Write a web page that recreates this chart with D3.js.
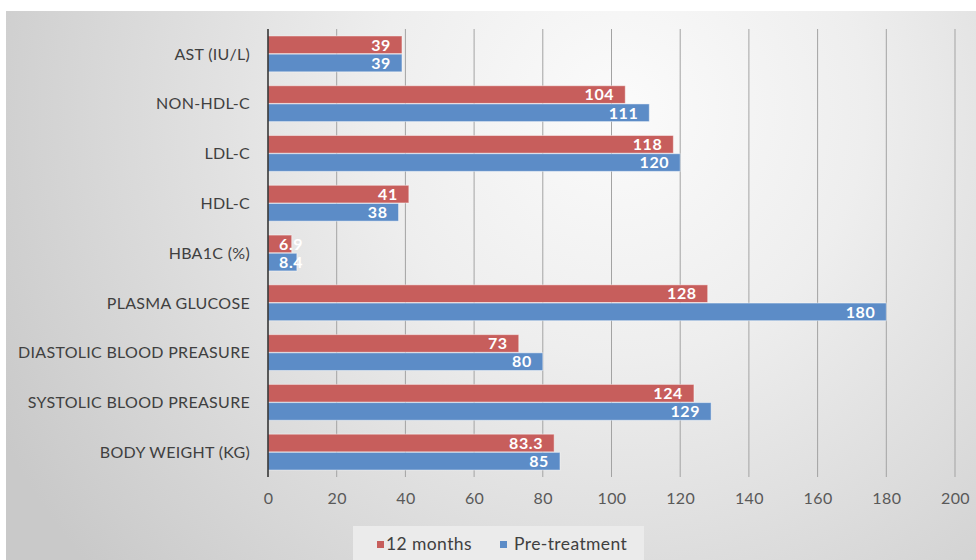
<!DOCTYPE html>
<html>
<head>
<meta charset="utf-8">
<script src="https://cdn.jsdelivr.net/npm/d3@7/dist/d3.min.js"></script>
<style>
  html, body { margin: 0; padding: 0; background: #ffffff; }
  svg { display: block; }
</style>
</head>
<body>
<svg id="chart" width="976" height="560"></svg>
<script>
// Clinical measures, listed top to bottom
const categories = [
  "AST (IU/L)",
  "NON-HDL-C",
  "LDL-C",
  "HDL-C",
  "HBA1C (%)",
  "PLASMA GLUCOSE",
  "DIASTOLIC BLOOD PREASURE",
  "SYSTOLIC BLOOD PREASURE",
  "BODY WEIGHT (KG)"
];
const seriesNames = ["12 months", "Pre-treatment"];
const twelveMonths = [39, 104, 118, 41, 6.9, 128, 73, 124, 83.3];
const preTreatment = [39, 111, 120, 38, 8.4, 180, 80, 129, 85];
const valueLabels12 = ["39", "104", "118", "41", "6.9", "128", "73", "124", "83.3"];
const valueLabelsPre = ["39", "111", "120", "38", "8.4", "180", "80", "129", "85"];
const xTicks = [0, 20, 40, 60, 80, 100, 120, 140, 160, 180, 200];

const colors = { "12 months": "#c75e5c", "Pre-treatment": "#5c8cc7" };
const FONT = "Lato, 'Open Sans', sans-serif";

const svg = d3.select("#chart");
const W = 976, H = 560;

// Soft radial background panel
const defs = svg.append("defs");
const grad = defs.append("radialGradient")
  .attr("id", "bg")
  .attr("gradientUnits", "userSpaceOnUse")
  .attr("cx", 620).attr("cy", 110).attr("r", 700);
grad.append("stop").attr("offset", "0%").attr("stop-color", "#fbfbfb");
grad.append("stop").attr("offset", "35%").attr("stop-color", "#eeeeee");
grad.append("stop").attr("offset", "100%").attr("stop-color", "#c9c9c9");

svg.append("rect").attr("x", 0).attr("y", 0).attr("width", W).attr("height", H).attr("fill", "#ffffff");
svg.append("rect").attr("x", 6).attr("y", 11).attr("width", W - 6).attr("height", H - 11).attr("fill", "url(#bg)");

const margin = { left: 268, right: 21, top: 29, bottom: 83 };
const x = d3.scaleLinear().domain([0, 200]).range([margin.left, W - margin.right]);
const y = d3.scaleBand().domain(categories).range([margin.top, H - margin.bottom])
  .paddingInner(0.28).paddingOuter(0.14);
const ySub = d3.scaleBand().domain(seriesNames).range([0, y.bandwidth()]).paddingInner(0.03);

// Vertical gridlines
svg.append("g")
  .selectAll("line")
  .data(xTicks.filter(t => t > 0))
  .join("line")
  .attr("x1", d => x(d)).attr("x2", d => x(d))
  .attr("y1", margin.top).attr("y2", H - margin.bottom)
  .attr("stroke", "#a3a3a3").attr("stroke-width", 1);

// Tick labels along the bottom
const xAxis = d3.axisBottom(x).tickValues(xTicks).tickSize(0).tickPadding(16);
const gx = svg.append("g")
  .attr("transform", `translate(0,${H - margin.bottom})`)
  .call(xAxis);
gx.select(".domain").remove();
gx.selectAll("text")
  .attr("font-family", FONT).attr("font-size", 16).attr("letter-spacing", "0.4px")
  .attr("fill", "#595959");

// Bars
const rows = categories.map((c, i) => ({
  cat: c,
  vals: [
    { s: "12 months", v: twelveMonths[i], label: valueLabels12[i] },
    { s: "Pre-treatment", v: preTreatment[i], label: valueLabelsPre[i] }
  ]
}));

const groups = svg.append("g").selectAll("g")
  .data(rows).join("g")
  .attr("transform", d => `translate(0,${y(d.cat)})`);

groups.selectAll("rect")
  .data(d => d.vals).join("rect")
  .attr("x", x(0))
  .attr("y", d => ySub(d.s))
  .attr("width", d => x(d.v) - x(0))
  .attr("height", ySub.bandwidth())
  .attr("fill", d => colors[d.s])
  .attr("stroke", "rgba(255,255,255,0.45)")
  .attr("stroke-width", 1);

// Value labels inside the bar ends
groups.selectAll("text")
  .data(d => d.vals).join("text")
  .attr("y", d => ySub(d.s) + ySub.bandwidth() / 2)
  .attr("dy", "0.36em")
  .attr("font-family", FONT).attr("font-size", 16).attr("font-weight", 700)
  .attr("letter-spacing", "0.6px")
  .attr("fill", "#ffffff")
  .text(d => d.label)
  .each(function(d) {
    const t = d3.select(this);
    const w = this.getComputedTextLength();
    const end = x(d.v) - 11;
    if (end - w < x(0) + 11) {
      t.attr("x", x(0) + 11).attr("text-anchor", "start");
    } else {
      t.attr("x", end).attr("text-anchor", "end");
    }
  });

// Category axis line and labels
svg.append("line")
  .attr("x1", x(0)).attr("x2", x(0))
  .attr("y1", margin.top).attr("y2", H - margin.bottom)
  .attr("stroke", "#2b2b2b").attr("stroke-width", 1.5);

svg.append("g").selectAll("text")
  .data(categories).join("text")
  .attr("x", 250)
  .attr("y", d => y(d) + y.bandwidth() / 2)
  .attr("dy", "0.36em")
  .attr("text-anchor", "end")
  .attr("font-family", FONT).attr("font-size", 16).attr("letter-spacing", "0.3px")
  .attr("fill", "#404040")
  .text(d => d);

// Legend
const lg = svg.append("g");
lg.append("rect").attr("x", 353).attr("y", 526).attr("width", 291).attr("height", 34)
  .attr("fill", "#ebebeb");
const legendItems = [
  { s: "12 months", sx: 377, tx: 386 },
  { s: "Pre-treatment", sx: 500, tx: 514 }
];
legendItems.forEach(it => {
  lg.append("rect").attr("x", it.sx).attr("y", 541).attr("width", 7).attr("height", 7)
    .attr("fill", colors[it.s]);
  lg.append("text").attr("x", it.tx).attr("y", 544).attr("dy", "0.36em")
    .attr("font-family", FONT).attr("font-size", 17.5).attr("letter-spacing", "0.4px")
    .attr("fill", "#404040")
    .text(it.s);
});
</script>
</body>
</html>
